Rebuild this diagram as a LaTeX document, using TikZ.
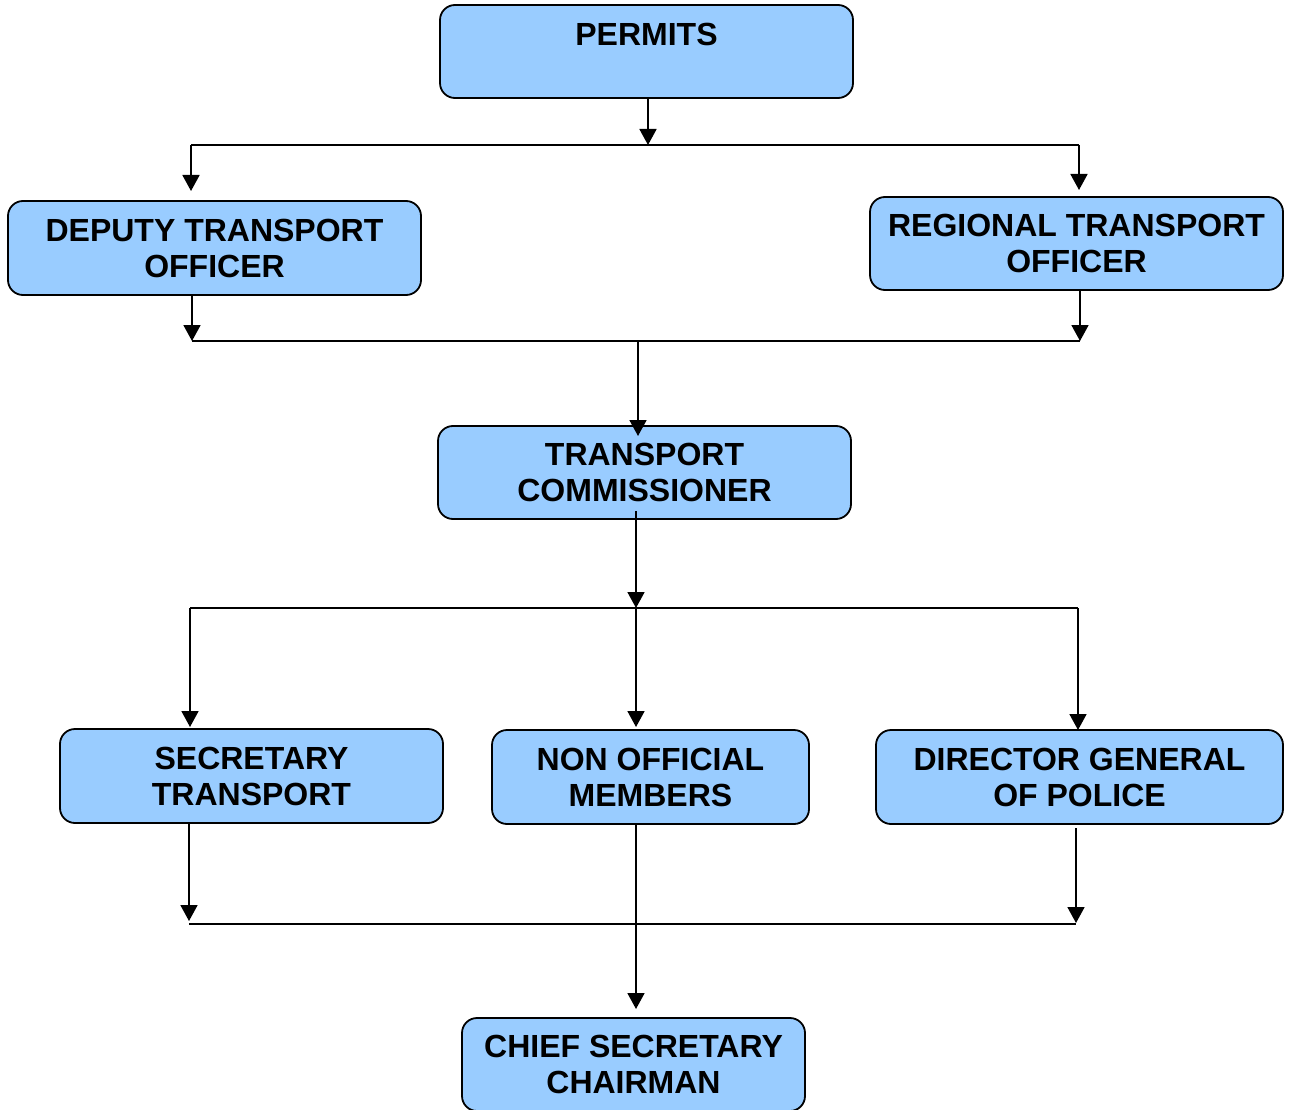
\documentclass[tikz,border=0pt]{standalone}
\usepackage{fontspec}
\setmainfont{Liberation Sans}
\usetikzlibrary{arrows.meta}
\definecolor{boxblue}{HTML}{99CCFF}
\begin{document}
\begin{tikzpicture}[x=1pt,y=-1pt,
  box/.style={draw=black, line width=1.8pt, fill=boxblue, rounded corners=15pt,
    inner sep=0pt, outer sep=0pt, align=center,
    font=\fontsize{32}{36}\selectfont\bfseries},
  conn/.style={line width=1.8pt, draw=black},
  arr/.style={conn, -{Triangle[width=17pt,length=16pt]}}]
\useasboundingbox (0,0) rectangle (1290,1110);
% boxes
\node[box, minimum width=413pt, minimum height=93pt, text height=23pt, text depth=35pt] (pm) at (646.5,51.5) {PERMITS};
\node[box, minimum width=413pt, minimum height=94pt] (dto) at (214.5,248) {DEPUTY TRANSPORT\\OFFICER};
\node[box, minimum width=413pt, minimum height=93pt] (rto) at (1076.5,243.5) {REGIONAL TRANSPORT\\OFFICER};
\node[box, minimum width=413pt, minimum height=93pt] (tc) at (644.5,472.5) {TRANSPORT\\COMMISSIONER};
\node[box, minimum width=383pt, minimum height=94pt] (st) at (251.5,776) {SECRETARY\\TRANSPORT};
\node[box, minimum width=317pt, minimum height=94pt] (nom) at (650.5,777) {NON OFFICIAL\\MEMBERS};
\node[box, minimum width=407pt, minimum height=94pt] (dg) at (1079.5,777) {DIRECTOR GENERAL\\OF POLICE};
\node[box, minimum width=343pt, minimum height=93pt] (cs) at (633.5,1064.5) {CHIEF SECRETARY\\CHAIRMAN};
% junction coordinates
\coordinate (j1m) at (648,145);
\coordinate (j1l) at (191,145);
\coordinate (j1r) at (1079,145);
\coordinate (j2m) at (638,341);
\coordinate (j2l) at (192,341);
\coordinate (j2r) at (1080,341);
\coordinate (j3m) at (636,608);
\coordinate (j3l) at (190,608);
\coordinate (j3r) at (1078,608);
\coordinate (j4l) at (189,924);
\coordinate (j4r) at (1076,924);
\coordinate (j4m) at (636,924);
% level 1
\draw[arr] (pm.south -| j1m) -- (j1m);
\draw[conn] (j1l) -- (j1r);
\draw[arr] (j1l) -- ([yshift=10pt]dto.north -| j1l);
\draw[arr] (j1r) -- ([yshift=7pt]rto.north -| j1r);
% level 2
\draw[arr] (dto.south -| j2l) -- (j2l);
\draw[arr] (rto.south -| j2r) -- (j2r);
\draw[conn] (j2l) -- (j2r);
\draw[arr] (j2m) -- ([yshift=-10pt]tc.north -| j2m);
% level 3
\draw[arr] ([yshift=8pt]tc.south -| j3m) -- (j3m);
\draw[conn] (j3l) -- (j3r);
\draw[arr] (j3l) -- ([yshift=2pt]st.north -| j3l);
\draw[arr] (j3m) -- ([yshift=3pt]nom.north -| j3m);
\draw[arr] (j3r) -- (dg.north -| j3r);
% level 4
\draw[arr] (st.south -| j4l) -- ([yshift=3pt]j4l);
\draw[arr] ([yshift=-4pt]dg.south -| j4r) -- ([yshift=1pt]j4r);
\draw[conn] (j4l) -- (j4r);
\draw[arr] (nom.south -| j4m) -- ([yshift=9pt]cs.north -| j4m);
\end{tikzpicture}
\end{document}
